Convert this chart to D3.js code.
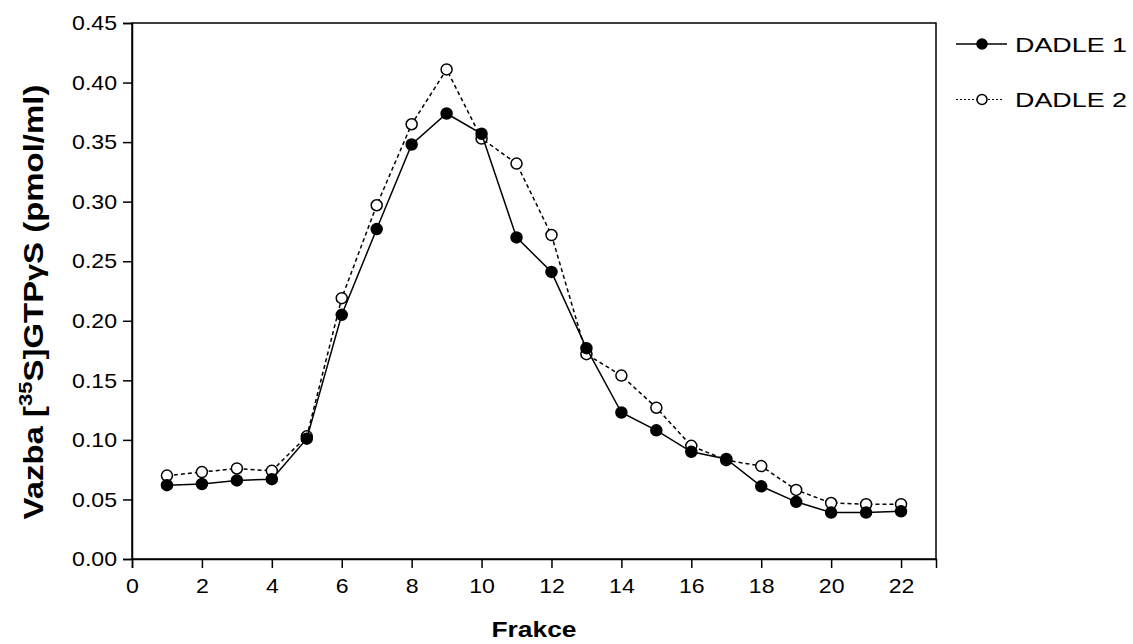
<!DOCTYPE html>
<html>
<head>
<meta charset="utf-8">
<script src="https://cdn.jsdelivr.net/npm/d3@7"></script>
<style>
  body { margin: 0; background: #fff; }
  text { font-family: "Liberation Sans", Arial, sans-serif; }
</style>
</head>
<body>
<div id="chart"></div>
<script>
// fractions and binding values
const fractions = d3.range(1, 23);
const dadle1 = [0.062, 0.063, 0.066, 0.067, 0.101, 0.205, 0.277, 0.348, 0.374, 0.357, 0.270,
                0.241, 0.177, 0.123, 0.108, 0.090, 0.084, 0.061, 0.048, 0.039, 0.039, 0.040];
const dadle2 = [0.070, 0.073, 0.076, 0.074, 0.103, 0.219, 0.297, 0.365, 0.411, 0.353, 0.332,
                0.272, 0.172, 0.154, 0.127, 0.095, 0.083, 0.078, 0.058, 0.047, 0.046, 0.046];
const xTicks = d3.range(0, 24, 2);
const yTicks = d3.range(0, 0.451, 0.05);

const W = 1133, H = 644;
const margin = {top: 23, right: 197, bottom: 85, left: 132};
const width = W - margin.left - margin.right,
      height = H - margin.top - margin.bottom;

// the original text is drawn a bit wider than Arial, stretch it
function stretch(sel, k) {
  sel.each(function() {
    const w = this.getComputedTextLength();
    d3.select(this).attr("textLength", w * k).attr("lengthAdjust", "spacingAndGlyphs");
  });
}

const svg = d3.select("#chart").append("svg")
    .attr("width", W)
    .attr("height", H)
  .append("g")
    .attr("transform", `translate(${margin.left}, ${margin.top})`);

const x = d3.scaleLinear().domain([0, 23]).range([0, width]);
const y = d3.scaleLinear().domain([0, 0.45]).range([height, 0]);

// frame
svg.append("rect")
  .attr("width", width).attr("height", height)
  .attr("fill", "none").attr("stroke", "#000").attr("stroke-width", 1.5);

// X axis
const xAxis = svg.append("g")
  .attr("transform", `translate(0, ${height})`)
  .call(d3.axisBottom(x).tickValues(xTicks).tickSize(9).tickPadding(10));
// Y axis
const yAxis = svg.append("g")
  .call(d3.axisLeft(y).tickValues(yTicks).tickSize(9).tickPadding(6).tickFormat(d3.format(".2f")));

[xAxis, yAxis].forEach(a => {
  a.select(".domain").attr("stroke-width", 1.5);
  a.selectAll(".tick line").attr("stroke-width", 1.5);
  a.selectAll("text").attr("font-size", 21).attr("fill", "#000")
    .style("font-family", "'Liberation Sans', Arial, sans-serif")
    .call(stretch, 1.1);
});

// axis titles
svg.append("text")
  .attr("x", width / 2).attr("y", height + 78)
  .attr("text-anchor", "middle")
  .attr("font-size", 22).attr("font-weight", "bold")
  .text("Frakce")
  .call(stretch, 1.2);

const yl = svg.append("text")
  .attr("text-anchor", "middle")
  .attr("font-size", 27).attr("font-weight", "bold");
yl.append("tspan").text("Vazba [");
yl.append("tspan").attr("dy", -11).attr("font-size", 18).text("35");
yl.append("tspan").attr("dy", 11).text("S]GTP");
yl.append("tspan").attr("font-size", 25).text("γ");
yl.append("tspan").text("S (pmol/ml)");
const ylk = 435 / yl.node().getComputedTextLength();
yl.attr("transform", `translate(${43 - margin.left}, ${302 - margin.top}) rotate(-90) scale(${ylk}, 1)`);

// series
const series = [
  {name: "DADLE 1", values: dadle1, dash: null, fill: "#000", legendDash: null},
  {name: "DADLE 2", values: dadle2, dash: "4,3", fill: "#fff", legendDash: "2,2"}
];

const line = d3.line().x(d => x(d[0])).y(d => y(d[1]));

// draw DADLE 2 first so filled markers sit on top
series.slice().reverse().forEach(s => {
  const pts = fractions.map((f, i) => [f, s.values[i]]);
  svg.append("path")
    .datum(pts)
    .attr("d", line)
    .attr("fill", "none")
    .attr("stroke", "#000")
    .attr("stroke-width", 1.5)
    .attr("stroke-dasharray", s.dash);
  svg.selectAll(null)
    .data(pts)
    .enter()
    .append("circle")
      .attr("cx", d => x(d[0]))
      .attr("cy", d => y(d[1]))
      .attr("r", 5.5)
      .attr("fill", s.fill)
      .attr("stroke", "#000")
      .attr("stroke-width", 1.5);
});

// legend
const legend = svg.append("g")
  .attr("transform", `translate(${956 - margin.left}, ${44 - margin.top})`);
series.forEach((s, i) => {
  const g = legend.append("g").attr("transform", `translate(0, ${i * 55.5})`);
  g.append("line")
    .attr("x1", 0).attr("x2", s.legendDash ? 48 : 51)
    .attr("stroke", "#000").attr("stroke-width", s.legendDash ? 1.2 : 1.5)
    .attr("stroke-dasharray", s.legendDash);
  g.append("circle")
    .attr("cx", 26).attr("r", 5)
    .attr("fill", s.fill).attr("stroke", "#000").attr("stroke-width", 1.5);
  g.append("text")
    .attr("x", 59).attr("y", 7.5)
    .attr("font-size", 21)
    .text(s.name)
    .call(stretch, 1.28);
});
</script>
</body>
</html>
